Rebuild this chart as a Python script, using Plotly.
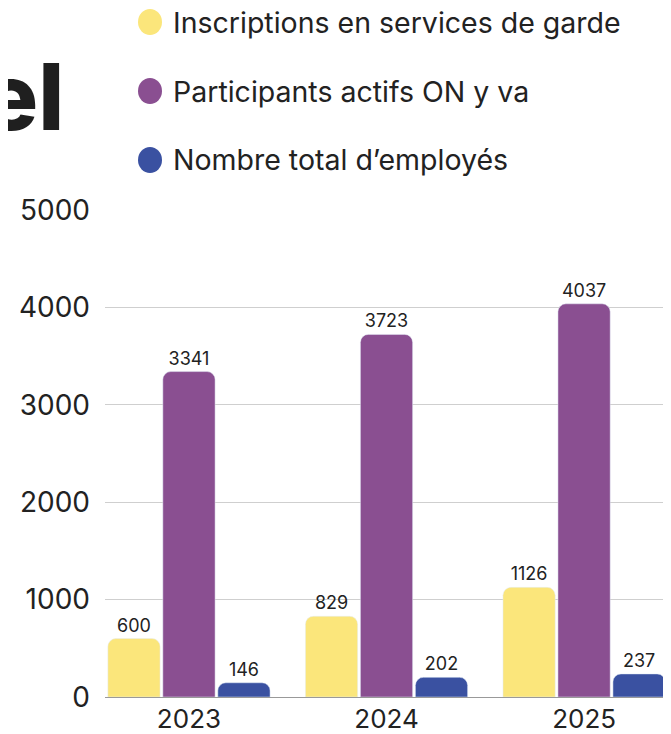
import plotly.graph_objects as go

years = ["2023", "2024", "2025"]
series_names = [
    "Inscriptions en services de garde",
    "Participants actifs ON y va",
    "Nombre total d\u2019employés",
]
garde = [600, 829, 1126]
participants = [3341, 3723, 4037]
employes = [146, 202, 237]
colors = ["#FBE67B", "#8A4F91", "#3A51A1"]

# the page body has an 8px margin, so the figure is drawn 8px in from the corner
OFF = 8
W, H = 671 - OFF, 734 - OFF
L, T, B = 105 - OFF, 210 - OFF, 37
PW, PH = W - L, H - T - B
FONT = "Inter"


def px_to_paper(x, y):
    # x, y in window pixels
    x, y = x - OFF, y - OFF
    return (x - L) / PW, (H - B - y) / PH


fig = go.Figure()
for name, vals, col in zip(series_names, [garde, participants, employes], colors):
    fig.add_bar(
        x=years, y=vals, name=name, marker_color=col,
        text=vals, textposition="outside", cliponaxis=False,
        textfont=dict(size=18, color="#222222", family=FONT),
        showlegend=False,
    )

# legend drawn by hand: big round markers and wide row spacing
for i, (name, col) in enumerate(zip(series_names, colors)):
    cy = 22 + i * 69
    x0, y0 = px_to_paper(138, cy - 13)
    x1, y1 = px_to_paper(162, cy + 13)
    fig.add_shape(type="circle", xref="paper", yref="paper",
                  x0=x0, x1=x1, y0=y1, y1=y0, fillcolor=col, line_width=0)
    tx, ty = px_to_paper(172, cy)
    fig.add_annotation(text=name, xref="paper", yref="paper", x=tx, y=ty,
                       xanchor="left", yanchor="middle", showarrow=False,
                       borderpad=0,
                       font=dict(size=28.5, color="#222222", family=FONT))

# cut-off title fragment
tx, ty = px_to_paper(66, 97)
fig.add_annotation(text="el", xref="paper", yref="paper", x=tx, y=ty,
                   xanchor="right", yanchor="middle", showarrow=False,
                   font=dict(size=92, color="#1f1f1f", family=FONT, weight=800))

fig.update_layout(
    width=W, height=H,
    margin=dict(l=L, r=0, t=T, b=B),
    barmode="group", bargap=0.165, bargroupgap=0.05, barcornerradius=8,
    plot_bgcolor="white", paper_bgcolor="white",
    font=dict(family=FONT, color="#222222"),
)
fig.update_xaxes(
    range=[-0.425, 2.44], showgrid=False, showline=False, automargin=False,
    tickfont=dict(size=26), ticklabelstandoff=4,
)
fig.update_yaxes(
    range=[0, 5000], dtick=1000, showgrid=True, gridcolor="#CFCFCF",
    zeroline=True, zerolinecolor="#999999", zerolinewidth=1, automargin=False,
    tickfont=dict(size=28), ticklabelstandoff=14,
)

fig.write_html("out.html")
